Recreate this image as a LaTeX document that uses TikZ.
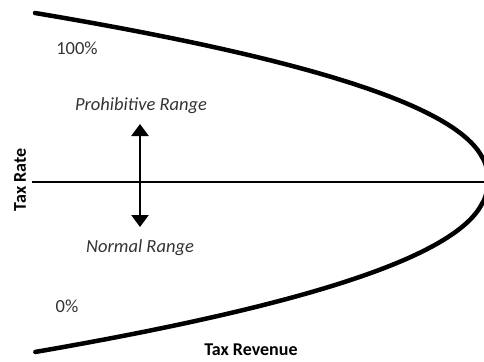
\documentclass[tikz,border=0pt]{standalone}
\usepackage{fontspec}
\setmainfont{Carlito}
\usetikzlibrary{arrows.meta}
\definecolor{txtgray}{HTML}{333333}
\begin{document}
\begin{tikzpicture}[x=1pt,y=-1pt,
  lbl/.style={font=\fontsize{18.5}{22}\selectfont, text=txtgray, inner sep=0pt},
  ilbl/.style={font=\fontsize{18.5}{22}\selectfont\itshape, text=txtgray, inner sep=0pt},
  axislbl/.style={font=\fontsize{18}{22}\selectfont\bfseries, text=black, inner sep=0pt},
  curveline/.style={line width=4.5pt, line cap=round, line join=round},
  axisline/.style={line width=2pt},
  rangearrow/.style={line width=2.5pt, {Triangle[length=12pt,width=17pt]}-{Triangle[length=12pt,width=17pt]}}]
\useasboundingbox (0,0) rectangle (484,361);
\clip (0,0) rectangle (484,361);
% Laffer curve
\draw[curveline]
  plot[domain=1:0.01, samples=80, variable=\t] ({488-453*(\t)^2.2}, {180-167*\t})
  -- plot[domain=0.01:1, samples=80, variable=\t] ({488-453*(\t)^2.2}, {180+172*\t});
% axis line
\coordinate (hl) at (32,182);
\coordinate (hr) at (486,182);
\draw[axisline] (hl) -- (hr);
% range arrow
\coordinate (up) at (140,124);
\coordinate (down) at (140,227);
\draw[rangearrow] (up) -- (down);
% labels
\node[lbl] (hundred) at (77,48) {100\%};
\node[lbl] (zero) at (67,306) {0\%};
\node[ilbl] (prohib) at (141,106) {Prohibitive Range};
\node[ilbl] (normal) at (140,248) {Normal Range};
\node[axislbl] (rev) at (251,350) {Tax Revenue};
\node[axislbl, rotate=90] (rate) at (20,180) {Tax Rate};
\end{tikzpicture}
\end{document}
